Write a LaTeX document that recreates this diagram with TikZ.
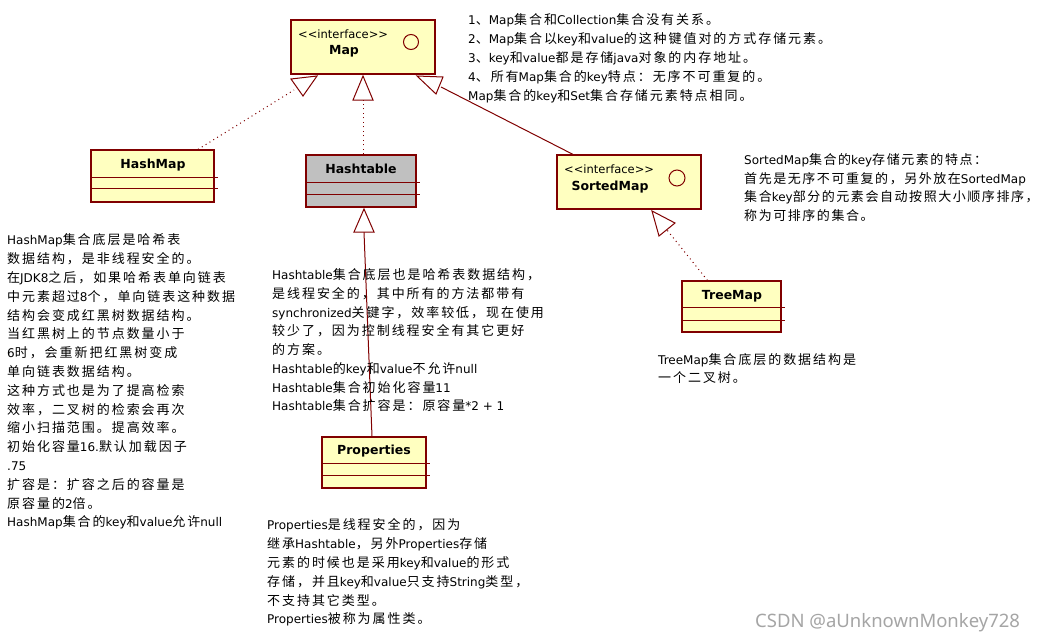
\documentclass[tikz,border=0pt]{standalone}
\usepackage{fontspec}
\usetikzlibrary{calc}
\newfontfamily\latinfont{DejaVu Sans}
\newfontfamily\cjkfont[Scale=1.083,LetterSpace=15]{Noto Sans CJK SC}
\newfontfamily\cjkfonttight[Scale=1.083,LetterSpace=12]{Noto Sans CJK SC}
\newfontfamily\umlfont{DejaVu Sans}
\newfontfamily\wmfont{Noto Sans}
% switch to the CJK font for CJK characters
\XeTeXinterchartokenstate=1
\newcount\cjkcnt
\def\setcjkrange#1#2{\cjkcnt=#1\relax\loop\XeTeXcharclass\cjkcnt=5\relax\advance\cjkcnt by 1\relax\ifnum\cjkcnt<#2\relax\repeat}
\setcjkrange{"3000}{"3040}
\setcjkrange{"4E00}{"A000}
\setcjkrange{"FF00}{"FFF0}
\XeTeXinterchartoks 0 5 = {\cjkfont}
\XeTeXinterchartoks 4095 5 = {\cjkfont}
\XeTeXinterchartoks 5 0 = {\latinfont}
\XeTeXinterchartoks 5 4095 = {\latinfont}
\definecolor{umlred}{RGB}{128,0,0}
\definecolor{umlfill}{RGB}{255,255,192}
\definecolor{umlgray}{RGB}{192,192,192}
\definecolor{wmgray}{RGB}{165,165,165}
\tikzset{
  umlbox/.style={draw=umlred, line width=1.2pt, fill=umlfill, rectangle, inner sep=0pt},
  sepline/.style={draw=umlred, line width=1.2pt},
  umlname/.style={font=\umlfont\bfseries\fontsize{12.5}{15}\selectfont, inner sep=0pt, anchor=base},
  stereo/.style={font=\umlfont\fontsize{11.5}{14}\selectfont, inner sep=0pt, anchor=base west},
  ifacecircle/.style={circle, draw=umlred, line width=1pt, inner sep=0pt, minimum size=15pt},
  dotline/.style={draw=umlred, line width=1pt, dash pattern=on 1pt off 3.5pt},
  solidline/.style={draw=umlred, line width=1pt},
  tri/.style={draw=umlred, line width=1pt, fill=white, line join=miter},
  note/.style={inner sep=0pt, anchor=north west, align=left, text=black, font=\latinfont\fontsize{12}{#1}\selectfont},
  tightnote/.style={inner sep=0pt, anchor=north west, align=left, text=black, font=\let\cjkfont\cjkfonttight\latinfont\fontsize{12}{#1}\selectfont},
}
\begin{document}
\begin{tikzpicture}[x=1pt,y=-1pt]
\fill[white] (0,0) rectangle (1044,642);
\useasboundingbox (0,0) rectangle (1044,642);

% ---- boxes
\node[umlbox, minimum width=144pt, minimum height=54pt] (map) at (363,47) {};
\node[umlbox, minimum width=123pt, minimum height=52pt] (hashmap) at (152.5,176) {};
\node[umlbox, fill=umlgray, minimum width=110pt, minimum height=52pt] (hashtable) at (361,181) {};
\node[umlbox, minimum width=144pt, minimum height=54pt] (sortedmap) at (629,182) {};
\node[umlbox, minimum width=99pt, minimum height=51pt] (treemap) at (731.5,306.5) {};
\node[umlbox, minimum width=104pt, minimum height=51pt] (properties) at (374,462.5) {};

% separators
\foreach \b/\da/\db in {hashmap/28/39, hashtable/28/40, treemap/27/40, properties/27/39}{
  \draw[sepline] ($(\b.north west)+(0,\da)$) -- ($(\b.north east)+(3,\da)$);
  \draw[sepline] ($(\b.north west)+(0,\db)$) -- ($(\b.north east)+(3,\db)$);
}

% titles
\node[stereo] (map-st) at (298,39) {<<interface>>};
\node[umlname] (map-n) at (344,54.5) {Map};
\node[ifacecircle] (map-c) at (411,42) {};
\node[stereo] (sm-st) at (564,173) {<<interface>>};
\node[umlname] (sm-n) at (610,190.5) {SortedMap};
\node[ifacecircle, minimum size=16pt] (sm-c) at (677,178) {};
\node[umlname] (hm-n) at (153,168.5) {HashMap};
\node[umlname] (ht-n) at (361,173.5) {Hashtable};
\node[umlname] (tm-n) at (732,299.5) {TreeMap};
\node[umlname] (pr-n) at (374,454.5) {Properties};

% ---- connectors
\coordinate (t1) at (294,90);
\coordinate (t2) at (363,100);
\coordinate (t3) at (441,87);
\coordinate (t4) at (364,232);
\coordinate (t5) at (667,230);
\draw[dotline] ([xshift=45.5pt]hashmap.north) -- (t1);
\draw[dotline] ([xshift=2pt]hashtable.north) -- (t2);
\draw[solidline] ([xshift=-56pt]sortedmap.north) -- (t3);
\draw[solidline] ([xshift=-2pt]properties.north) -- (t4);
\draw[dotline] ([xshift=-24pt]treemap.north) -- (t5);

% hollow triangles
\draw[tri] (291,79) -- (317,76) -- (303,96) -- cycle;
\draw[tri] (363,76) -- (373,100) -- (353,100) -- cycle;
\draw[tri] (417,76) -- (443,77) -- (436,94) -- cycle;
\draw[tri] (364,209) -- (374,232) -- (354,232) -- cycle;
\draw[tri] (652,211) -- (675,223) -- (659,236) -- cycle;

% ---- notes
\node[note=19] (n-map) at (468,10.6) {\strut 1、Map集合和Collection集合没有关系。\\
2、Map集合以key和value的这种键值对的方式存储元素。\\
3、key和value都是存储java对象的内存地址。\\
4、所有Map集合的key特点：无序不可重复的。\\
Map集合的key和Set集合存储元素特点相同。};

\node[tightnote=18.5] (n-sm) at (744,151.8) {\strut SortedMap集合的key存储元素的特点：\\
首先是无序不可重复的，另外放在SortedMap\\
集合key部分的元素会自动按照大小顺序排序，\kern-9pt\\
称为可排序的集合。};

\node[note=18.8] (n-hm) at (7,231.5) {\strut HashMap集合底层是哈希表\\
数据结构，是非线程安全的。\\
在JDK8之后，如果哈希表单向链表\\
中元素超过8个，单向链表这种数据\\
结构会变成红黑树数据结构。\\
当红黑树上的节点数量小于\\
6时，会重新把红黑树变成\\
单向链表数据结构。\\
这种方式也是为了提高检索\\
效率，二叉树的检索会再次\\
缩小扫描范围。提高效率。\\
初始化容量16.默认加载因子\\
.75\\
扩容是：扩容之后的容量是\\
原容量的2倍。\\
HashMap集合的key和value允许null};

\node[note=18.7] (n-ht) at (272,266.6) {\strut Hashtable集合底层也是哈希表数据结构，\\
是线程安全的，其中所有的方法都带有\\
synchronized关键字，效率较低，现在使用\\
较少了，因为控制线程安全有其它更好\\
的方案。\\
Hashtable的key和value不允许null\\
Hashtable集合初始化容量11\\
Hashtable集合扩容是：原容量*2 + 1};

\node[note=18.8] (n-pr) at (267,516.5) {\strut Properties是线程安全的，因为\\
继承Hashtable，另外Properties存储\\
元素的时候也是采用key和value的形式\\
存储，并且key和value只支持String类型，\\
不支持其它类型。\\
Properties被称为属性类。};

\node[note=18] (n-tm) at (658,352.1) {\strut TreeMap集合底层的数据结构是\\
一个二叉树。};

\node[font=\wmfont\fontsize{18.5}{20}\selectfont, text=wmgray, anchor=base west, inner sep=0pt] (wm) at (755,627.5) {CSDN @aUnknownMonkey728};
\end{tikzpicture}
\end{document}
